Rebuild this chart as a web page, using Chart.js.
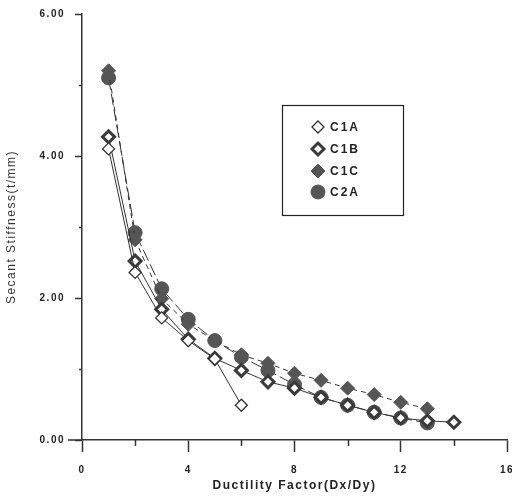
<!DOCTYPE html>
<html><head><meta charset="utf-8">
<script src="https://cdn.jsdelivr.net/npm/chart.js@4.4.1/dist/chart.umd.min.js"></script>
<style>html,body{margin:0;padding:0;background:#fff}#wrap{width:512px;height:496px;position:relative}</style>
</head><body><div id="wrap"><canvas id="c" width="512" height="496"></canvas></div>
<script>
// ---- data ----
const ductility = [1, 2, 3, 4, 5, 6, 7, 8, 9, 10, 11, 12, 13, 14];
const c1a = [4.10, 2.36, 1.72, 1.40, 1.14, 0.49];
const c1b = [4.27, 2.52, 1.84, 1.42, 1.15, 0.98, 0.82, 0.73, 0.60, 0.49, 0.39, 0.31, 0.27, 0.25];
const c1c = [5.20, 2.82, 1.99, 1.63, 1.40, 1.20, 1.08, 0.94, 0.84, 0.73, 0.64, 0.53, 0.44];
const c2a = [5.10, 2.92, 2.13, 1.70, 1.40, 1.17, 0.98, 0.78, 0.60, 0.49, 0.39, 0.31, 0.24];
const seriesNames = ['C1A', 'C1B', 'C1C', 'C2A'];
const xTicks = [0, 4, 8, 12, 16];
const xMinor = [2, 6, 10, 14];
const yTicks = [0, 2, 4, 6];
const yMinor = [1, 3, 5];

const ink = '#333';
const fillGray = '#555';
const toPts = arr => arr.map((v, i) => ({x: ductility[i], y: v}));

function spacing(ctx, px) { try { ctx.letterSpacing = px + 'px'; } catch (e) {} }

const extras = {
  id: 'extras',
  beforeLayout(chart) { spacing(chart.ctx, 1.5); },
  beforeDraw(chart) { spacing(chart.ctx, 1.5); },
  afterDraw(chart) {
    const {ctx, scales: {x, y}} = chart;
    const H = Chart.helpers;
    ctx.save();
    ctx.strokeStyle = ink;
    ctx.lineWidth = 1.5;
    ctx.beginPath();
    yMinor.forEach(v => {
      const py = Math.round(y.getPixelForValue(v)) + 0.5;
      ctx.moveTo(x.left - 3, py); ctx.lineTo(x.left, py);
    });
    xMinor.forEach(v => {
      const px = Math.round(x.getPixelForValue(v)) + 0.5;
      ctx.moveTo(px, y.bottom); ctx.lineTo(px, y.bottom + 6);
    });
    const by = y.getPixelForValue(0);
    ctx.moveTo(x.left - 14, by); ctx.lineTo(x.left, by);
    ctx.stroke();

    // legend box
    const bx = 282, bTop = 105, bw = 121, bh = 110;
    ctx.lineWidth = 1.2;
    ctx.strokeStyle = '#222';
    ctx.strokeRect(bx + 0.5, bTop + 0.5, bw, bh);
    const rows = [127, 149, 171, 192];
    ctx.font = 'bold 12px "Liberation Sans", Arial, sans-serif';
    spacing(ctx, 2);
    ctx.textBaseline = 'middle';
    ctx.textAlign = 'left';
    chart.data.datasets.forEach((ds, i) => {
      const ry = rows[i];
      ctx.save();
      ctx.fillStyle = ds.pointBackgroundColor;
      ctx.strokeStyle = ds.pointBorderColor;
      ctx.lineWidth = ds.pointBorderWidth;
      H.drawPoint(ctx, {pointStyle: ds.pointStyle, radius: ds.pointRadius, rotation: 0, borderWidth: ds.pointBorderWidth}, 318, ry);
      ctx.restore();
      ctx.fillStyle = '#222';
      ctx.fillText(ds.label, 330, ry + 1);
    });
    ctx.restore();
  }
};

const common = {borderColor: ink, borderWidth: 1, tension: 0, fill: false, pointHoverRadius: 7};

new Chart(document.getElementById('c'), {
  type: 'line',
  data: {
    datasets: [
      Object.assign({}, common, {label: seriesNames[0], data: toPts(c1a), pointStyle: 'rectRot', pointRadius: 6,
        pointBackgroundColor: '#fff', pointBorderColor: ink, pointBorderWidth: 1.3}),
      Object.assign({}, common, {label: seriesNames[1], data: toPts(c1b), pointStyle: 'rectRot', pointRadius: 6,
        pointBackgroundColor: '#fff', pointBorderColor: '#3a3a3a', pointBorderWidth: 3}),
      Object.assign({}, common, {label: seriesNames[2], data: toPts(c1c), pointStyle: 'rectRot', pointRadius: 7,
        pointBackgroundColor: fillGray, pointBorderColor: fillGray, pointBorderWidth: 1, borderDash: [5, 4]}),
      Object.assign({}, common, {label: seriesNames[3], data: toPts(c2a), pointStyle: 'circle', pointRadius: 7,
        pointBackgroundColor: fillGray, pointBorderColor: fillGray, pointBorderWidth: 1, borderDash: [12, 4]})
    ]
  },
  options: {
    responsive: false,
    animation: false,
    devicePixelRatio: 1,
    layout: {autoPadding: false, padding: {left: 0, right: 5, top: 14, bottom: 0}},
    plugins: {legend: {display: false}, tooltip: {enabled: false}},
    scales: {
      x: {
        type: 'linear', min: 0, max: 16,
        afterBuildTicks: s => { s.ticks = xTicks.map(v => ({value: v})); },
        afterFit: s => { s.height = 56; s.paddingLeft = 0; s.paddingRight = 0; },
        grid: {drawOnChartArea: false, drawTicks: true, tickLength: 12, tickColor: ink, tickWidth: 1.5},
        border: {display: true, color: ink, width: 1.5},
        ticks: {padding: 12, color: '#222', maxRotation: 0, autoSkip: false,
          font: {family: '"Liberation Sans", Arial, sans-serif', size: 10, weight: 'bold'},
          callback: v => String(v)},
        title: {display: true, text: 'Ductility Factor(Dx/Dy)', color: '#222', padding: {top: 0, bottom: 3},
          font: {family: '"Liberation Sans", Arial, sans-serif', size: 12, weight: 'bold'}}
      },
      y: {
        type: 'linear', min: 0, max: 6,
        afterBuildTicks: s => { s.ticks = yTicks.map(v => ({value: v})); },
        afterFit: s => { s.width = 82; s.paddingTop = 0; s.paddingBottom = 0; },
        grid: {drawOnChartArea: false, drawTicks: true, tickLength: 7, tickColor: ink, tickWidth: 1.5},
        border: {display: true, color: ink, width: 1.5},
        ticks: {padding: 10, color: '#222', autoSkip: false,
          font: {family: '"Liberation Sans", Arial, sans-serif', size: 10, weight: 'bold'},
          callback: v => Number(v).toFixed(2)},
        title: {display: true, text: 'Secant Stiffness(t/mm)', color: '#333', padding: {top: 4, bottom: 0},
          font: {family: '"Liberation Sans", Arial, sans-serif', size: 12, weight: 'normal'}}
      }
    }
  },
  plugins: [extras]
});
</script>
</body></html>
